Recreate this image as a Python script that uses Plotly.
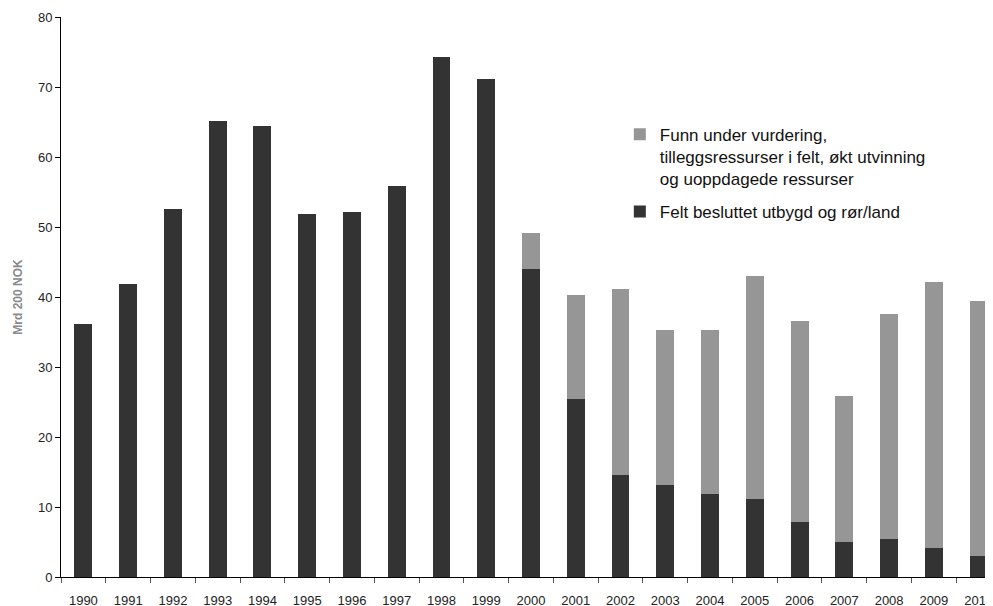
import plotly.graph_objects as go

years = [str(y) for y in range(1990, 2011)]
felt_besluttet = [36.2, 41.9, 52.6, 65.2, 64.5, 51.9, 52.2, 55.9, 74.3, 71.2,
                  44.0, 25.5, 14.6, 13.2, 11.9, 11.2, 7.8, 5.0, 5.5, 4.2, 3.0]
funn_vurdering = [0, 0, 0, 0, 0, 0, 0, 0, 0, 0,
                  5.2, 14.8, 26.6, 22.1, 23.4, 31.8, 28.8, 20.9, 32.1, 38.0, 36.5]
y_ticks = [0, 10, 20, 30, 40, 50, 60, 70, 80]

name_dark = "Felt besluttet utbygd og rør/land"
name_gray = "Funn under vurdering,<br>tilleggsressurser i felt, økt utvinning<br>og uoppdagede ressurser"

FONT = "Liberation Sans, Arial, sans-serif"

fig = go.Figure()
fig.add_trace(go.Bar(x=years, y=felt_besluttet, name=name_dark, legendgroup="dark", legendrank=2,
                     marker=dict(color="#333333", line=dict(width=0)), width=0.4))
fig.add_trace(go.Bar(x=years, y=funn_vurdering, name=name_gray, legendgroup="gray", legendrank=1,
                     marker=dict(color="#969696", line=dict(width=0)), width=0.4))

fig.update_layout(
    width=993, height=606,
    margin=dict(l=53, r=0, t=9, b=37, autoexpand=False),
    barmode="stack",
    plot_bgcolor="white", paper_bgcolor="white",
    font=dict(family=FONT, color="#222222", size=13),
    showlegend=True,
    legend=dict(
        x=0.5945, y=0.822, xanchor="left", yanchor="top",
        traceorder="grouped", valign="top",
        font=dict(size=17, color="#111111"),
        bgcolor="rgba(0,0,0,0)", tracegroupgap=8,
    ),
    xaxis=dict(
        type="category", range=[-0.5, 20.5], automargin=False,
        showline=True, linecolor="black", linewidth=1,
        ticks="outside", ticklen=5, tickcolor="#555555", tickson="boundaries",
        ticklabelstandoff=11,
        tickfont=dict(size=13, color="#222222"),
        showgrid=False, zeroline=False,
    ),
    yaxis=dict(
        range=[0, 80], tickvals=y_ticks, automargin=False,
        showline=True, linecolor="black", linewidth=1,
        ticks="outside", ticklen=5, tickcolor="black",
        tickfont=dict(size=13, color="#222222"),
        showgrid=False, zeroline=False,
        title=dict(text="<b>Mrd 200 NOK</b>", font=dict(size=12, color="#8a8a8a"), standoff=12),
    ),
)

fig.write_html("out.html")
